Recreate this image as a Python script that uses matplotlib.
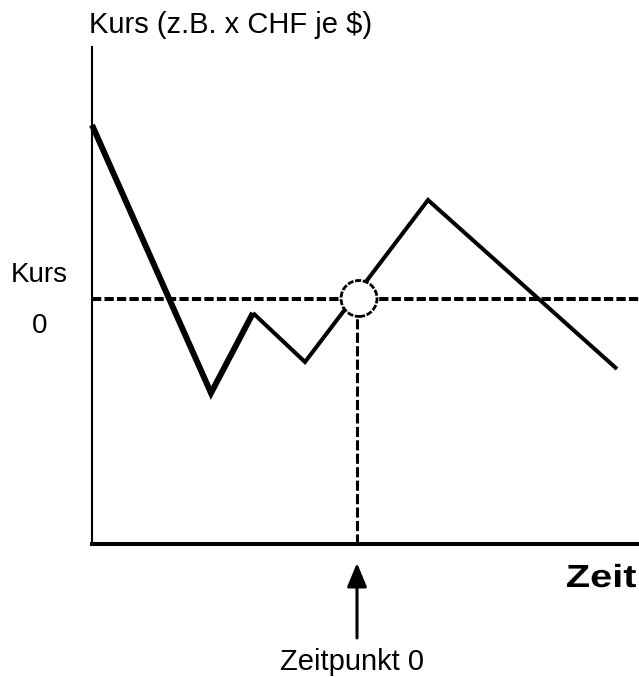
import matplotlib
matplotlib.use('Agg')
import matplotlib.pyplot as plt
from matplotlib.patches import Circle, PathPatch
from matplotlib.textpath import TextPath
from matplotlib.font_manager import FontProperties
from matplotlib.transforms import Affine2D, ScaledTranslation

# Data (time and exchange rate, arbitrary units)
timeLst= [0.0, 11.9, 16.1, 21.3, 33.6, 52.5]
kursLst= [41.9, 15.1, 23.1, 18.2, 34.4, 17.5]
kurs0= 24.55 # Kurs at Zeitpunkt 0
t0= 26.5 # Zeitpunkt 0
tMax= 54.7
kMax= 49.7

labelY= 'Kurs (z.B. x CHF je $)'
labelX= 'Zeit'
labelKurs0= ['Kurs', '0']
labelT0= 'Zeitpunkt 0'

fnt= 'Liberation Sans'

fig= plt.figure(figsize=(6.39,6.77), dpi=100)
ax= fig.add_axes([92/639, 133/677, 547/639, 497/677])
ax.set_xlim(0, tMax)
ax.set_ylim(0, kMax)
for s in ['top', 'right']:
    ax.spines[s].set_visible(False)
ax.spines['left'].set_linewidth(1.5)
ax.spines['bottom'].set_linewidth(2.9)
ax.set_xticks([])
ax.set_yticks([])

## Reference level and time
ax.plot([0, tMax], [kurs0, kurs0], color='black', lw=2.9, ls=(0,(2.3,0.8)),
        dash_capstyle='butt', zorder=2, clip_on=False)
ax.plot([t0, t0], [0, kurs0], color='black', lw=2.2, ls=(0,(3.3,1.1)),
        dash_capstyle='butt', zorder=2)

## Rate path (first part drawn thicker)
ax.plot(timeLst[:3], kursLst[:3], color='black', lw=4.3,
        solid_joinstyle='miter', solid_capstyle='butt', zorder=3, clip_on=False)
ax.plot(timeLst[2:], kursLst[2:], color='black', lw=2.9,
        solid_joinstyle='miter', solid_capstyle='butt', zorder=3, clip_on=False)

## Circle at Zeitpunkt 0
ax.add_patch(Circle((t0+0.2, kurs0), 1.8, facecolor='white', edgecolor='black',
                    lw=2.0, ls=(0,(2.2,0.6)), zorder=4))

## Arrow and labels
ax.annotate('', xy=(t0, -1.9), xytext=(t0, -9.4), annotation_clip=False,
            arrowprops=dict(arrowstyle='-|>,head_length=0.72,head_width=0.3',
                            mutation_scale=20, lw=2.2, color='black',
                            shrinkA=0, shrinkB=0))
ax.text(t0-0.55, -12.6, labelT0, ha='center', va='baseline', fontsize=21,
        fontname=fnt, clip_on=False)
ax.text(-0.3, 51.1, labelY, ha='left', va='baseline', fontsize=21,
        fontname=fnt, clip_on=False)
ax.text(-5.3, 26.2, labelKurs0[0], ha='center', va='baseline', fontsize=20,
        fontname=fnt, clip_on=False)
ax.text(-5.25, 21.1, labelKurs0[1], ha='center', va='baseline', fontsize=20,
        fontname=fnt, clip_on=False)

## "Zeit" is a wide bold label: stretch the glyphs horizontally
tp= TextPath((0, 0), labelX, size=32,
             prop=FontProperties(family=fnt, weight='bold'))
ext= tp.get_extents()
sx= 69.0/ext.width
trf= Affine2D().translate(-ext.x1, 0).scale(sx, 1.0) + ScaledTranslation(54.4, -4.3, ax.transData)
ax.add_patch(PathPatch(tp, transform=trf, facecolor='black', edgecolor='none',
                       clip_on=False))

plt.savefig('out.png', dpi=100)
